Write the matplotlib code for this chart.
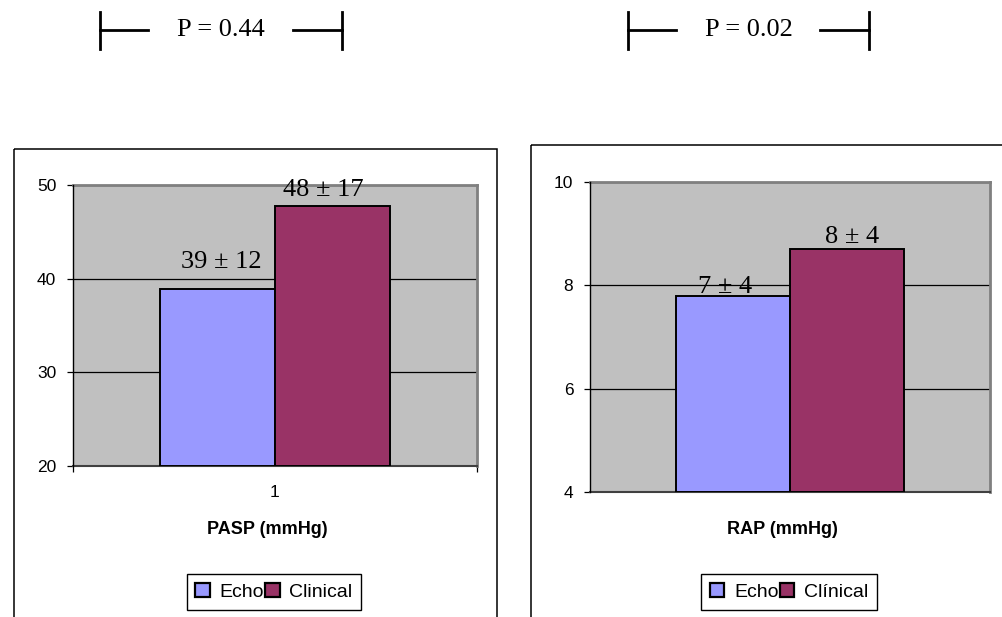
import matplotlib
matplotlib.use("Agg")
import matplotlib.pyplot as plt
from matplotlib.patches import Rectangle

# data
series = ["Echo", "Clinical"]
pasp_means = [38.9, 47.8]
pasp_labels = ["39 \u00b1 12", "48 \u00b1 17"]
rap_means = [7.8, 8.7]
rap_labels = ["7 \u00b1 4", "8 \u00b1 4"]
p_values = ["P = 0.44", "P = 0.02"]
legend_names_left = ["Echo", "Clinical"]
legend_names_right = ["Echo", "Cl\u00ednical"]

colors = ["#9999FF", "#993366"]
W, H = 1003, 617
fig = plt.figure(figsize=(W / 100, H / 100), dpi=100)


def px_axes(x0, y0, x1, y1):
    # pixel box (top-left origin) -> figure axes
    return fig.add_axes([x0 / W, 1 - y1 / H, (x1 - x0) / W, (y1 - y0) / H])


# overlay for frames and p-value brackets (pixel coordinates)
ov = fig.add_axes([0, 0, 1, 1], zorder=-1)
ov.set_xlim(0, W)
ov.set_ylim(H, 0)
ov.axis("off")
ov.add_patch(Rectangle((14, 149), 483, 480, fill=False, ec="black", lw=1.1))
ov.add_patch(Rectangle((531, 145), 480, 480, fill=False, ec="black", lw=1.1))

for (x0, x1), txt in zip([(100, 342), (628, 869)], p_values):
    ov.plot([x0, x0], [12, 49], color="black", lw=2)
    ov.plot([x1, x1], [12, 49], color="black", lw=2)
    ov.plot([x0, x0 + 48], [30, 30], color="black", lw=2)
    ov.plot([x1 - 49, x1], [30, 30], color="black", lw=2)
    ov.text((x0 + x1) / 2, 30, txt, ha="center", va="center",
            fontsize=19, family="Liberation Serif")


def draw_panel(ax, means, labels, ylim, yticks, offsets, xlabel_x, legend_x,
               names, show_cat):
    w = 0.285
    xs = [1 - w / 2, 1 + w / 2]
    ax.set_facecolor("#C0C0C0")
    bars = ax.bar(xs, [m - ylim[0] for m in means], width=w, bottom=ylim[0],
                  color=colors, edgecolor="black", linewidth=1.4, zorder=3)
    for x, m, lab, (dx, dy) in zip(xs, means, labels, offsets):
        ax.annotate(lab, (x, m), xytext=(dx, dy), textcoords="offset points",
                    ha="center", va="baseline", fontsize=19,
                    family="Liberation Serif", zorder=4)
    ax.set_xlim(0.5, 1.5)
    ax.set_ylim(*ylim)
    ax.set_yticks(yticks)
    ax.yaxis.grid(True, color="black", lw=0.9, zorder=1)
    ax.set_axisbelow(True)
    ax.tick_params(axis="y", direction="out", length=4, width=0.9, pad=8,
                   labelsize=12.5, labelfontfamily="Liberation Sans")
    if show_cat:
        ax.set_xticks([1])
        ax.set_xticklabels(["1"])
        ax.set_xticks([0.5, 1.5], minor=True)
        ax.tick_params(axis="x", which="major", length=0, pad=14,
                       labelsize=12.5, labelfontfamily="Liberation Sans")
        ax.tick_params(axis="x", which="minor", direction="out", length=4.5,
                       width=0.9)
    else:
        ax.set_xticks([])
    for s in ("top", "right"):
        ax.spines[s].set_color("#808080")
        ax.spines[s].set_linewidth(2)
    ax.spines["left"].set_color("black")
    ax.spines["bottom"].set_color("#404040")
    ax.spines["left"].set_linewidth(1)
    ax.spines["bottom"].set_linewidth(1.5)
    ax.spines["left"].set_zorder(5)
    fig.text(xlabel_x / W, 1 - 530 / H, ax.get_label(), ha="center",
             va="center", fontsize=13, fontweight="bold",
             family="Liberation Sans")
    leg = fig.legend(bars, names, loc="center",
                     bbox_to_anchor=(legend_x / W, 1 - 592 / H), ncol=2,
                     prop={"family": "Liberation Sans", "size": 14},
                     frameon=True, fancybox=False, edgecolor="black",
                     handlelength=0.75, handleheight=0.75, handletextpad=0.5,
                     columnspacing=0.05, borderpad=0.45, borderaxespad=0)
    leg.get_frame().set_linewidth(1)
    leg.get_frame().set_alpha(1)
    for h in leg.legend_handles:
        h.set_linewidth(1.6)


ax1 = px_axes(73, 185, 477, 466)
ax1.set_label("PASP (mmHg)")
draw_panel(ax1, pasp_means, pasp_labels, (20, 50), [20, 30, 40, 50],
           [(3, 15), (-6.5, 7)], 267, 274, legend_names_left, True)

ax2 = px_axes(590, 182, 990, 492)
ax2.set_label("RAP (mmHg)")
draw_panel(ax2, rap_means, rap_labels, (4, 10), [4, 6, 8, 10],
           [(-6, 2), (3.5, 4.3)], 782, 789, legend_names_right, False)

fig.savefig("out.png", dpi=100)
